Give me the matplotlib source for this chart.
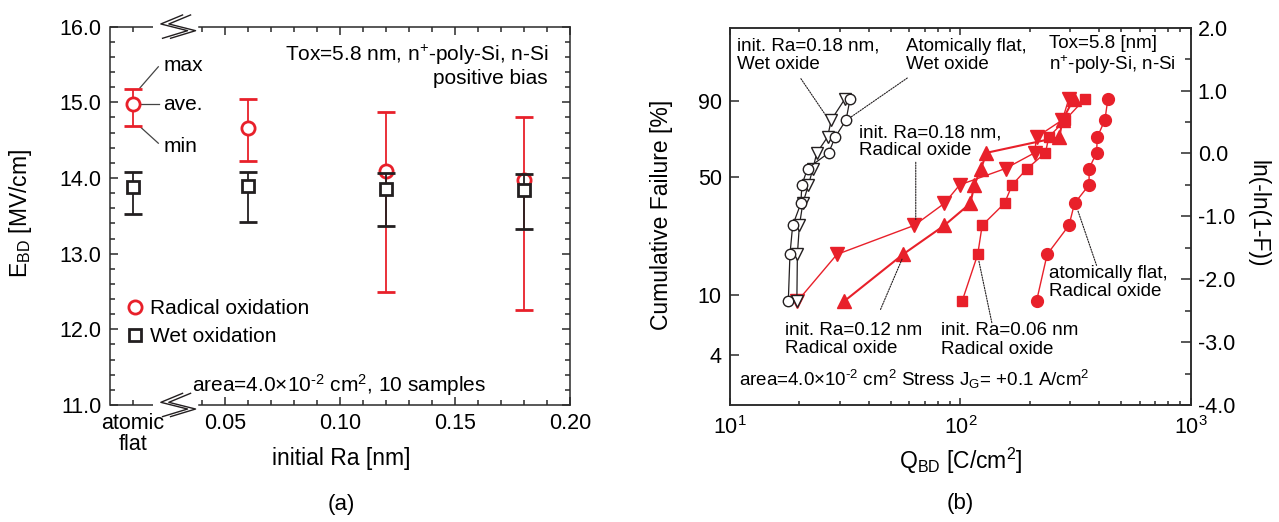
import numpy as np
import matplotlib
matplotlib.use('Agg')
import matplotlib.pyplot as plt
from matplotlib.lines import Line2D
from matplotlib.ticker import (FixedLocator, FixedFormatter, NullLocator,
                               MultipleLocator, FormatStrFormatter, LogLocator,
                               NullFormatter)

plt.rcParams.update({
    'font.family': ['Liberation Sans', 'DejaVu Sans'],
    'mathtext.fontset': 'custom',
    'mathtext.rm': 'Liberation Sans',
    'mathtext.it': 'Liberation Sans:italic',
    'mathtext.bf': 'Liberation Sans:bold',
    'mathtext.default': 'regular',
    'axes.unicode_minus': False,
})

RED = '#e8202a'
BLK = '#231f20'
SPINE = '#2a2a2a'

# ---------------- Panel (a) data ----------------
ra_x = [0.01, 0.06, 0.12, 0.18]          # "atomic flat" drawn at 0.01
ra_major_ticks = [0.05, 0.10, 0.15, 0.20]
ra_major_labels = ['0.05', '0.10', '0.15', '0.20']
radical_ave = [14.98, 14.66, 14.09, 13.98]
radical_max = [15.17, 15.05, 14.87, 14.80]
radical_min = [14.69, 14.22, 12.49, 12.25]
wet_ave = [13.885, 13.90, 13.855, 13.845]
wet_max = [14.074, 14.074, 14.065, 14.052]
wet_min = [13.524, 13.414, 13.37, 13.33]

# ---------------- Panel (b) data ----------------
cum_failure = [9.1, 18.2, 27.3, 36.4, 45.5, 54.5, 63.6, 72.7, 81.8, 90.9]  # %
q_wet_018 = [19.5, 19.6, 20.0, 20.7, 21.9, 22.9, 23.8, 26.5, 27.5, 31.6]
q_wet_flat = [17.9, 18.2, 18.7, 20.3, 20.5, 21.7, 26.8, 28.6, 31.9, 33.2]
q_rad_018 = [19.6, 29.1, 63.1, 85.2, 99.3, 157, 210, 214, 277, 296]
q_rad_012 = [31.3, 56.3, 85.2, 110.5, 115, 123, 129.7, 269, 277.5, 311]
q_rad_006 = [101.7, 118.9, 124.3, 155.4, 167.8, 195, 234, 242, 285, 348]
q_rad_flat = [214, 238, 296, 313, 362, 362, 390, 393, 424, 437]
failure_ticks = [4, 10, 50, 90]
failure_tick_labels = ['4', '10', '50', '90']

TICK_FS = 15.5
LABEL_FS = 16.5

fig = plt.figure(figsize=(12.79, 5.22), dpi=100)

# ================= Panel (a) =================
ax = fig.add_axes([0.0860, 0.2241, 0.3597, 0.7248])
ax.set_xlim(0, 0.2)
ax.set_ylim(11.0, 16.0)

ax.errorbar(ra_x, radical_ave,
            yerr=[np.subtract(radical_ave, radical_min), np.subtract(radical_max, radical_ave)],
            fmt='o', ms=9.5, mfc='white', mec=RED, mew=2.0, ecolor=RED,
            elinewidth=1.3, capsize=6.5, capthick=2.4, zorder=3)
ax.errorbar(ra_x, wet_ave,
            yerr=[np.subtract(wet_ave, wet_min), np.subtract(wet_max, wet_ave)],
            fmt='s', ms=8, mfc='white', mec=BLK, mew=2.0, ecolor=BLK,
            elinewidth=1.3, capsize=6.5, capthick=2.4, zorder=4)

ax.xaxis.set_major_locator(FixedLocator(ra_major_ticks))
ax.xaxis.set_major_formatter(FixedFormatter(ra_major_labels))
minor_x = [0.01] + [round(0.04 + 0.01 * k, 2) for k in range(16) if round(0.04 + 0.01 * k, 2) not in (0.05, 0.10, 0.15, 0.20)]
ax.xaxis.set_minor_locator(FixedLocator(minor_x))
ax.xaxis.set_minor_formatter(FixedFormatter(['atomic\nflat'] + [''] * (len(minor_x) - 1)))
ax.yaxis.set_major_locator(MultipleLocator(1.0))
ax.yaxis.set_minor_locator(MultipleLocator(0.2))
ax.yaxis.set_major_formatter(FormatStrFormatter('%.1f'))
ax.tick_params(which='both', direction='in', top=True, right=True,
               width=1.1, color=SPINE, labelsize=TICK_FS)
ax.tick_params(which='major', length=6)
ax.tick_params(which='minor', length=3.6)
ax.tick_params(axis='x', which='both', pad=6)
ax.tick_params(axis='y', which='both', pad=6)
for lab in ax.xaxis.get_minorticklabels():
    lab.set_linespacing(0.95)
    lab.set_fontsize(TICK_FS)

for s in ax.spines.values():
    s.set_linewidth(1.1)
    s.set_color(SPINE)
# broken axis at the bottom and top
gap_lo, gap_hi = 0.0188, 0.0388
ax.spines['bottom'].set_bounds(gap_hi, 0.2)
ax.spines['top'].set_bounds(gap_hi, 0.2)
for yy in (0, 1):
    ax.plot([0, gap_lo / 0.2], [yy, yy], transform=ax.transAxes, color=SPINE,
            lw=1.1, clip_on=False, solid_capstyle='butt')
    # zigzag break mark
    axw, axh = 460.0, 378.3
    cx = 0.0295 / 0.2
    zig = np.array([(8.7, -11.7), (-13, -2.7), (13.7, 4), (-11.3, 11.6)])
    for off in (-4.0, 4.0):
        xs = cx + (zig[:, 0] + off) / axw
        ys = yy - zig[:, 1] / axh
        ax.plot(xs, ys, transform=ax.transAxes, color=BLK, lw=1.0, clip_on=False)

ax.set_xlabel('initial Ra [nm]', fontsize=LABEL_FS)
ax.xaxis.label.set_va('center')
ax.xaxis.set_label_coords(0.503, -0.142)
ax.set_ylabel(r'E$_{\rm BD}$ [MV/cm]', fontsize=LABEL_FS)
ax.yaxis.label.set_va('center')
ax.yaxis.set_label_coords(-0.195, 0.506)

ax.text(0.952, 0.898, 'Tox=5.8 nm, n$^{+}$-poly-Si, n-Si\npositive bias',
        transform=ax.transAxes, ha='right', va='center', multialignment='right',
        fontsize=15, linespacing=1.15)
ax.text(0.1776, 0.0529, r'area=4.0×10$^{\text{-}2}$ cm$^{2}$, 10 samples',
        transform=ax.transAxes, ha='left', va='center', fontsize=15)

# max / ave / min call-outs
lead = dict(color='#444444', lw=0.9)
ax.plot([0.013, 0.021], [15.19, 15.47], **lead)
ax.plot([0.0127, 0.0214], [14.98, 14.98], **lead)
ax.plot([0.013, 0.021], [14.68, 14.46], **lead)
ax.text(0.0232, 15.49, 'max', fontsize=15, va='center', ha='left')
ax.text(0.0232, 14.965, 'ave.', fontsize=15, va='center', ha='left')
ax.text(0.0232, 14.41, 'min', fontsize=15, va='center', ha='left')

handles = [Line2D([], [], ls='none', marker='o', ms=9.5, mfc='white', mec=RED, mew=2.0),
           Line2D([], [], ls='none', marker='s', ms=8, mfc='white', mec=BLK, mew=2.0)]
ax.legend(handles, ['Radical oxidation', 'Wet oxidation'], loc='center left',
          bbox_to_anchor=(0.0352, 0.2176), frameon=False, fontsize=15,
          handlelength=0.8, handletextpad=0.35, labelspacing=0.45,
          borderaxespad=0, borderpad=0)

fig.text(341.5 / 1279, 0.034, '(a)', ha='center', va='center', fontsize=16)

# ================= Panel (b) =================
def fwd(f):
    f = np.clip(np.asarray(f, dtype=float), 1e-9, 100 - 1e-9)
    return np.log(-np.log(1 - f / 100.0))

def inv(w):
    return 100.0 * (1 - np.exp(-np.exp(np.asarray(w, dtype=float))))

bx = fig.add_axes([0.5708, 0.2241, 0.3602, 0.7228])
bx.set_xscale('log')
bx.set_yscale('function', functions=(fwd, inv))
bx.set_xlim(10, 1000)
bx.set_ylim(float(inv(-4.0)), float(inv(2.0)))

rl = dict(color=RED, lw=1.0)
bx.plot(q_rad_018, cum_failure, marker='v', ms=9.5, mfc=RED, mec=RED, **rl, zorder=3)
bx.plot(q_rad_012, cum_failure, marker='^', ms=9.5, mfc=RED, mec=RED, color=RED, lw=1.5, zorder=3)
bx.plot(q_rad_006, cum_failure, marker='s', ms=7.5, mfc=RED, mec=RED, **rl, zorder=3)
bx.plot(q_rad_flat, cum_failure, marker='o', ms=8.5, mfc=RED, mec=RED, **rl, zorder=3)
bx.plot(q_wet_018, cum_failure, marker='v', ms=8, mfc='white', mec=BLK, mew=1.0,
        color=BLK, lw=0.9, zorder=4)
bx.plot(q_wet_flat, cum_failure, marker='o', ms=7.5, mfc='white', mec=BLK, mew=1.0,
        color=BLK, lw=0.9, zorder=4)

bx.yaxis.set_major_locator(FixedLocator(failure_ticks))
bx.yaxis.set_major_formatter(FixedFormatter(failure_tick_labels))
bx.yaxis.set_minor_locator(NullLocator())
bx.xaxis.set_major_locator(LogLocator(base=10, numticks=10))
bx.xaxis.set_minor_locator(LogLocator(base=10, subs=np.arange(2, 10), numticks=10))
bx.xaxis.set_minor_formatter(NullFormatter())
bx.tick_params(which='both', direction='in', top=True, right=False,
               width=1.1, color=SPINE, labelsize=TICK_FS)
bx.tick_params(axis='y', which='major', length=6.5, pad=6)
bx.tick_params(axis='x', which='major', length=5, pad=8)
bx.tick_params(axis='x', which='minor', length=3)

bx2 = bx.twinx()
bx2.set_ylim(-4.0, 2.0)
bx2.yaxis.set_major_locator(MultipleLocator(1.0))
bx2.yaxis.set_minor_locator(MultipleLocator(0.5))
bx2.yaxis.set_major_formatter(FormatStrFormatter('%.1f'))
bx2.tick_params(which='both', direction='in', width=1.1, color=SPINE,
                labelsize=TICK_FS, pad=5)
bx2.tick_params(which='major', length=7)
bx2.tick_params(which='minor', length=4)
for a in (bx, bx2):
    for s in a.spines.values():
        s.set_linewidth(1.1)
        s.set_color(SPINE)

bx.set_xlabel(r'Q$_{\rm BD}$ [C/cm$^{2}$]', fontsize=LABEL_FS)
bx.xaxis.label.set_va('center')
bx.xaxis.set_label_coords(0.5008, -0.148)
bx.set_ylabel('Cumulative Failure [%]', fontsize=LABEL_FS)
bx.yaxis.label.set_va('center')
bx.yaxis.set_label_coords(-0.148, 0.505)
bx2.set_ylabel('ln(-ln(1-F))', fontsize=LABEL_FS, rotation=270)
bx2.yaxis.label.set_va('center')
bx2.yaxis.label.set_ha('center')
bx2.yaxis.set_label_coords(1.147, 0.507)

AFS = 13.5
tk = dict(transform=bx.transAxes, fontsize=AFS, ha='left', va='center', linespacing=1.1)
bx.text(0.014, 0.926, 'init. Ra=0.18 nm,\nWet oxide', **tk)
bx.text(0.381, 0.926, 'Atomically flat,\nWet oxide', **tk)
bx.text(0.692, 0.926, 'Tox=5.8 [nm]\nn$^{+}$-poly-Si, n-Si', **tk)
bx.text(0.280, 0.698, 'init. Ra=0.18 nm,\nRadical oxide', **tk)
bx.text(0.1196, 0.174, 'init. Ra=0.12 nm\nRadical oxide', **tk)
bx.text(0.4576, 0.172, 'init. Ra=0.06 nm\nRadical oxide', **tk)
bx.text(0.692, 0.325, 'atomically flat,\nRadical oxide', **tk)
bx.text(0.0187, 0.0676, r'area=4.0×10$^{\text{-}2}$ cm$^{2}$ Stress J$_{\rm G}$= +0.1 A/cm$^{2}$', **tk)

dl = dict(arrowstyle='-', color=BLK, lw=0.8, linestyle=(0, (1.2, 1.2)), shrinkA=0, shrinkB=0)
for (x0, y0), (x1, y1) in [((20.3, 1.19), (26.1, 0.60)),
                            ((58.8, 1.20), (33.5, 0.58)),
                            ((64.0, -0.14), (64.0, -1.05)),
                            ((45.0, -2.48), (55.8, -1.68)),
                            ((136.9, -2.69), (120.1, -1.70)),
                            ((390.0, -1.78), (323.6, -0.91))]:
    bx2.annotate('', xy=(x1, y1), xytext=(x0, y0), xycoords='data',
                 textcoords='data', arrowprops=dl)

fig.text(960.7 / 1279, 0.036, '(b)', ha='center', va='center', fontsize=16)

fig.savefig('out.png', dpi=100)
